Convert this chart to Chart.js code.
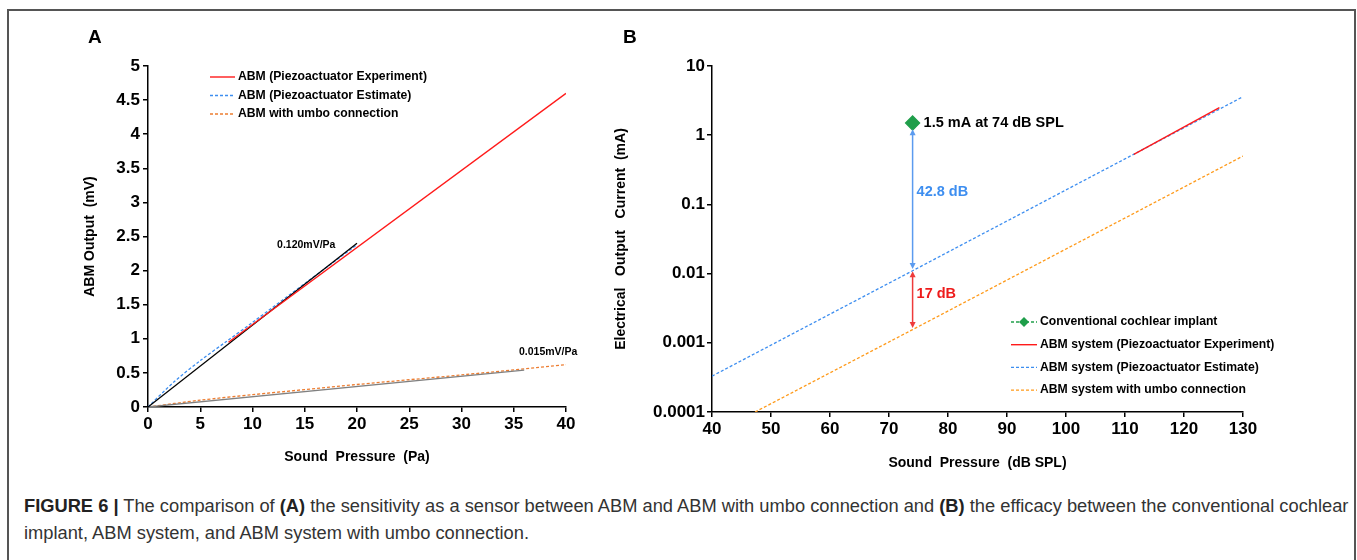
<!DOCTYPE html>
<html>
<head>
<meta charset="utf-8">
<script src="https://cdn.jsdelivr.net/npm/chart.js@4.4.1/dist/chart.umd.min.js"></script>
<style>
body { margin: 0; background: #fff; width: 1357px; height: 560px; overflow: hidden; position: relative; font-family: "Liberation Sans", Arial, sans-serif; }
#frame { position: absolute; left: 7px; top: 9px; width: 1349px; height: 620px; border: 2px solid #555; box-sizing: border-box; }
.panel { position: absolute; top: 20px; height: 460px; }
#wrapA { left: 20px; width: 580px; }
#wrapB { left: 600px; width: 750px; }
#caption { position: absolute; left: 24px; top: 492px; font-size: 18.3px; line-height: 27px; color: #333; white-space: nowrap; }
#caption b { color: #222; }
</style>
</head>
<body>
<div id="frame"></div>
<div class="panel" id="wrapA"><canvas id="chartA"></canvas></div>
<div class="panel" id="wrapB"><canvas id="chartB"></canvas></div>
<div id="caption"><b>FIGURE 6 |</b> The comparison of <b>(A)</b> the sensitivity as a sensor between ABM and ABM with umbo connection and <b>(B)</b> the efficacy between the conventional cochlear<br>implant, ABM system, and ABM system with umbo connection.</div>
<script>
// Panel A: ABM output (mV) vs sound pressure (Pa)
const expA_x = [7.7, 40];
const expA_y = [0.95, 4.6];
const estA_x = [0, 2.5, 5, 7.5, 10, 15, 20];
const estA_y = [0, 0.37, 0.68, 0.96, 1.24, 1.81, 2.38];
const umboA_x = [0, 5, 10, 20, 30, 40];
const umboA_y = [0, 0.1, 0.18, 0.33, 0.47, 0.62];
const fitA_x = [0, 20];
const fitA_y = [0, 2.4];
const fitUmboA_x = [0, 36];
const fitUmboA_y = [0, 0.54];
const yTicksA = [0, 0.5, 1, 1.5, 2, 2.5, 3, 3.5, 4, 4.5, 5];
const yTickLabelsA = ['0', '0.5', '1', '1.5', '2', '2.5', '3', '3.5', '4', '4.5', '5'];

// Panel B: electrical output current (mA) vs sound pressure (dB SPL)
const expB_x = [111.5, 126];
const expB_y = [0.53, 2.5];
const estB_x = [40, 74, 130];
const estB_y = [0.00033, 0.011, 3.6];
const umboB_x = [47.3, 74, 130];
const umboB_y = [0.0001, 0.00155, 0.5];
const ciB_x = [74];
const ciB_y = [1.5];
const ticksB = [0.0001, 0.001, 0.01, 0.1, 1, 10];
const tickLabelsB = ['0.0001', '0.001', '0.01', '0.1', '1', '10'];
// gap arrows (mA) at 74 dB SPL
const gapX = 74;
const gapCI = [1.22, 0.0117];
const gapUmbo = [0.0108, 0.00163];

const pts = (xs, ys) => xs.map((x, i) => ({ x: x, y: ys[i] }));
const FONT = '"Liberation Sans", Arial, sans-serif';

function drawLegend(ctx, items, x0, y0, dy, len, font) {
    ctx.save();
    ctx.font = font;
    ctx.textBaseline = 'middle';
    ctx.textAlign = 'left';
    items.forEach((it, i) => {
        const y = y0 + i * dy;
        ctx.strokeStyle = it.borderColor;
        ctx.lineWidth = it.borderWidth;
        ctx.setLineDash(it.borderDash || []);
        ctx.beginPath();
        ctx.moveTo(x0, y);
        ctx.lineTo(x0 + len, y);
        ctx.stroke();
        ctx.setLineDash([]);
        if (it.pointRadius) {
            const cx = x0 + len / 2, r = 5;
            ctx.fillStyle = it.pointBackgroundColor;
            ctx.beginPath();
            ctx.moveTo(cx, y - r); ctx.lineTo(cx + r, y); ctx.lineTo(cx, y + r); ctx.lineTo(cx - r, y);
            ctx.closePath();
            ctx.fill();
        }
        ctx.fillStyle = '#000';
        ctx.fillText(it.label, x0 + len + 3, y);
    });
    ctx.restore();
}

function vArrow(ctx, x, yTop, yBot, color) {
    ctx.save();
    ctx.strokeStyle = color;
    ctx.fillStyle = color;
    ctx.lineWidth = 1.5;
    ctx.beginPath();
    ctx.moveTo(x, yTop + 3);
    ctx.lineTo(x, yBot - 3);
    ctx.stroke();
    ctx.beginPath();
    ctx.moveTo(x, yTop); ctx.lineTo(x - 3, yTop + 6); ctx.lineTo(x + 3, yTop + 6); ctx.closePath();
    ctx.fill();
    ctx.beginPath();
    ctx.moveTo(x, yBot); ctx.lineTo(x - 3, yBot - 6); ctx.lineTo(x + 3, yBot - 6); ctx.closePath();
    ctx.fill();
    ctx.restore();
}

function axisStyle(extra) {
    return Object.assign({
        border: { color: '#000', width: 1.5 },
        grid: { display: true, drawOnChartArea: false, drawTicks: true, tickLength: 5, color: '#000', lineWidth: 1.5 },
    }, extra);
}

// Panel A
const decorA = {
    id: 'decorA',
    afterDatasetsDraw(chart) {
        const { ctx, chartArea, scales: { x, y } } = chart;
        ctx.save();
        ctx.fillStyle = '#000';
        ctx.textBaseline = 'middle';
        ctx.font = 'bold 19px ' + FONT;
        ctx.fillText('A', 68, 18);
        ctx.font = 'bold 10.5px ' + FONT;
        ctx.fillText('0.120mV/Pa', x.getPixelForValue(12.35), y.getPixelForValue(2.38));
        ctx.fillText('0.015mV/Pa', x.getPixelForValue(35.5), y.getPixelForValue(0.81));
        ctx.restore();
        const items = chart.data.datasets.filter(d => d.inLegend);
        drawLegend(ctx, items, chartArea.left + 62, chartArea.top + 11, 18.5, 25, 'bold 12.2px ' + FONT);
    }
};

new Chart(document.getElementById('chartA'), {
    type: 'scatter',
    data: {
        datasets: [
            { label: 'ABM (Piezoactuator Experiment)', data: pts(expA_x, expA_y), showLine: true, borderColor: '#ff1a1a', borderWidth: 1.4, pointRadius: 0, order: 0, inLegend: true },
            { label: 'ABM (Piezoactuator Estimate)', data: pts(estA_x, estA_y), showLine: true, borderColor: '#3d8ef0', borderWidth: 1.3, borderDash: [3, 2], pointRadius: 0, tension: 0.3, order: 2, inLegend: true },
            { label: 'ABM with umbo connection', data: pts(umboA_x, umboA_y), showLine: true, borderColor: '#ed7d31', borderWidth: 1.3, borderDash: [3, 2], pointRadius: 0, tension: 0.3, order: 4, inLegend: true },
            { label: 'fit 0.120', data: pts(fitA_x, fitA_y), showLine: true, borderColor: '#000', borderWidth: 1.3, pointRadius: 0, order: 1 },
            { label: 'fit 0.015', data: pts(fitUmboA_x, fitUmboA_y), showLine: true, borderColor: '#808080', borderWidth: 1.3, pointRadius: 0, order: 3 }
        ]
    },
    options: {
        responsive: true,
        maintainAspectRatio: false,
        animation: false,
        layout: { padding: { top: 46, right: 34, left: 0, bottom: 0 } },
        plugins: { legend: { display: false }, tooltip: { enabled: false } },
        scales: {
            x: axisStyle({
                type: 'linear', min: 0, max: 40,
                ticks: { stepSize: 5, color: '#000', font: { family: FONT, size: 17, weight: 'bold' }, padding: 2, maxRotation: 0 },
                title: { display: true, text: 'Sound  Pressure  (Pa)', color: '#000', font: { family: FONT, size: 14, weight: 'bold' }, padding: { top: 0, bottom: 14 } },
                afterFit: s => { s.height = 73; }
            }),
            y: axisStyle({
                type: 'linear', min: 0, max: 5,
                afterBuildTicks: s => { s.ticks = yTicksA.map(v => ({ value: v })); },
                ticks: { color: '#000', font: { family: FONT, size: 17, weight: 'bold' }, padding: 3, callback: v => yTickLabelsA[yTicksA.indexOf(v)] },
                title: { display: true, text: 'ABM Output  (mV)', color: '#000', font: { family: FONT, size: 14, weight: 'bold' }, padding: { top: 62, bottom: 0 } },
                afterFit: s => { s.width = 128; }
            })
        }
    },
    plugins: [decorA]
});

// Panel B
const decorB = {
    id: 'decorB',
    afterDatasetsDraw(chart) {
        const { ctx, chartArea, scales: { x, y } } = chart;
        const gx = x.getPixelForValue(gapX);
        vArrow(ctx, gx, y.getPixelForValue(gapCI[0]), y.getPixelForValue(gapCI[1]), '#5b9bef');
        vArrow(ctx, gx, y.getPixelForValue(gapUmbo[0]), y.getPixelForValue(gapUmbo[1]), '#ee3b3b');
        ctx.save();
        ctx.textBaseline = 'middle';
        ctx.fillStyle = '#000';
        ctx.font = 'bold 19px ' + FONT;
        ctx.fillText('B', 23, 18);
        ctx.font = 'bold 14.5px ' + FONT;
        ctx.fillText('1.5 mA at 74 dB SPL', gx + 11, y.getPixelForValue(ciB_y[0]));
        ctx.fillStyle = '#3d8ef0';
        ctx.fillText('42.8 dB', gx + 4, y.getPixelForValue(0.15));
        ctx.fillStyle = '#ee1c1c';
        ctx.fillText('17 dB', gx + 4, y.getPixelForValue(0.0051));
        ctx.restore();
        const items = chart.data.datasets.slice().sort((a, b) => a.legendRank - b.legendRank);
        drawLegend(ctx, items, chartArea.left + 299, chartArea.top + 256, 22.7, 26, 'bold 12.2px ' + FONT);
    }
};

new Chart(document.getElementById('chartB'), {
    type: 'scatter',
    data: {
        datasets: [
            { label: 'Conventional cochlear implant', data: pts(ciB_x, ciB_y), showLine: false, borderColor: '#22a04b', borderWidth: 1.3, borderDash: [3, 2], pointStyle: 'rectRot', pointRadius: 7, pointBackgroundColor: '#1f9e4a', pointBorderColor: '#1f9e4a', order: 0, legendRank: 0 },
            { label: 'ABM system (Piezoactuator Experiment)', data: pts(expB_x, expB_y), showLine: true, borderColor: '#ff1a1a', borderWidth: 1.4, pointRadius: 0, order: 1, legendRank: 1 },
            { label: 'ABM system (Piezoactuator Estimate)', data: pts(estB_x, estB_y), showLine: true, borderColor: '#3d8ef0', borderWidth: 1.3, borderDash: [3, 2], pointRadius: 0, order: 2, legendRank: 2 },
            { label: 'ABM system with umbo connection', data: pts(umboB_x, umboB_y), showLine: true, borderColor: '#ff9a1a', borderWidth: 1.3, borderDash: [3, 2], pointRadius: 0, order: 3, legendRank: 3 }
        ]
    },
    options: {
        responsive: true,
        maintainAspectRatio: false,
        animation: false,
        layout: { padding: { top: 46, right: 107, left: 0, bottom: 0 } },
        plugins: { legend: { display: false }, tooltip: { enabled: false } },
        scales: {
            x: axisStyle({
                type: 'linear', min: 40, max: 130,
                ticks: { stepSize: 10, color: '#000', font: { family: FONT, size: 17, weight: 'bold' }, padding: 2, maxRotation: 0 },
                title: { display: true, text: 'Sound  Pressure  (dB SPL)', color: '#000', font: { family: FONT, size: 14, weight: 'bold' }, padding: { top: 0, bottom: 8 } },
                afterFit: s => { s.height = 68; }
            }),
            y: axisStyle({
                type: 'logarithmic', min: 0.0001, max: 10,
                afterBuildTicks: s => { s.ticks = ticksB.map(v => ({ value: v })); },
                ticks: { color: '#000', font: { family: FONT, size: 17, weight: 'bold' }, padding: 2, callback: v => tickLabelsB[ticksB.indexOf(v)] },
                title: { display: true, text: 'Electrical   Output   Current  (mA)', color: '#000', font: { family: FONT, size: 14, weight: 'bold' }, padding: { top: 13, bottom: 0 } },
                afterFit: s => { s.width = 112; }
            })
        }
    },
    plugins: [decorB]
});
</script>
</body>
</html>
